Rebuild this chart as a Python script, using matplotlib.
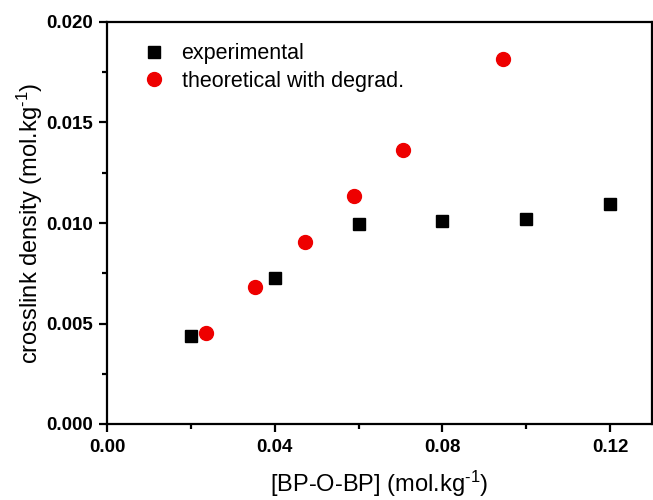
import matplotlib
matplotlib.use("Agg")
import matplotlib.pyplot as plt
from matplotlib.ticker import MultipleLocator, FormatStrFormatter

plt.rcParams['font.family'] = ['Liberation Sans', 'DejaVu Sans']
plt.rcParams['mathtext.fontset'] = 'custom'
plt.rcParams['mathtext.rm'] = 'Liberation Sans'
plt.rcParams['mathtext.it'] = 'Liberation Sans'

# experimental crosslink density
exp_x = [0.02, 0.04, 0.06, 0.08, 0.10, 0.12]
exp_y = [0.00438, 0.00726, 0.00995, 0.0101, 0.0102, 0.01095]

# theoretical with degradation
theo_x = [0.0236, 0.0353, 0.0473, 0.0590, 0.0707, 0.0945]
theo_y = [0.00453, 0.00682, 0.00906, 0.01134, 0.01363, 0.01816]

fig = plt.figure(figsize=(6.53, 5.0), dpi=100)
ax = fig.add_axes([0.1639, 0.152, 0.8346, 0.804])

ax.plot(exp_x, exp_y, 's', color='black', markersize=8.5, linestyle='none',
        label='experimental')
ax.plot(theo_x, theo_y, 'o', color='#ee0000', markersize=10, linestyle='none',
        label='theoretical with degrad.')

ax.set_xlim(0, 0.13)
ax.set_ylim(0, 0.020)
ax.xaxis.set_major_locator(MultipleLocator(0.04))
ax.xaxis.set_minor_locator(MultipleLocator(0.02))
ax.yaxis.set_major_locator(MultipleLocator(0.005))
ax.yaxis.set_minor_locator(MultipleLocator(0.0025))
ax.xaxis.set_major_formatter(FormatStrFormatter('%.2f'))
ax.yaxis.set_major_formatter(FormatStrFormatter('%.3f'))

for s in ax.spines.values():
    s.set_linewidth(1.6)
ax.tick_params(which='major', direction='out', length=6, width=1.6,
               labelsize=13.5, top=False, right=False, pad=4)
ax.tick_params(axis='x', which='major', pad=5)
ax.tick_params(which='minor', direction='out', length=3.5, width=1.6,
               top=False, right=False)
for lab in ax.get_xticklabels() + ax.get_yticklabels():
    lab.set_fontweight('bold')

unit = r'(mol.kg$^{\text{-1}}$)'
ax.set_xlabel('[BP-O-BP] ' + unit, fontsize=17, labelpad=9)
ax.set_ylabel('crosslink density ' + unit, fontsize=17, labelpad=1)

ax.legend(loc='upper left', frameon=False, fontsize=15.5,
          bbox_to_anchor=(0.03, 0.995), handletextpad=0.8, labelspacing=0.3,
          handlelength=1.0)

fig.savefig('out.png', dpi=100)
